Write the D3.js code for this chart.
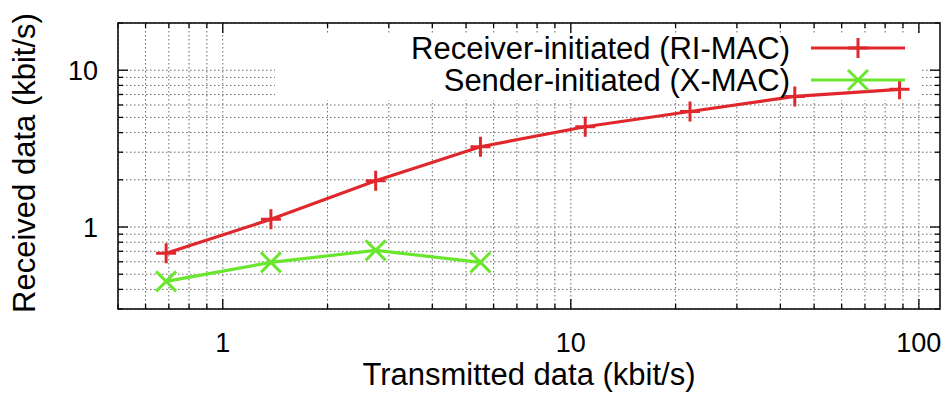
<!DOCTYPE html>
<html>
<head>
<meta charset="utf-8">
<script src="https://cdn.jsdelivr.net/npm/d3@7"></script>
<style>
  body { margin: 0; background: #fff; }
  text { font-family: "Liberation Sans", Arial, Helvetica, sans-serif; fill: #000; }
</style>
</head>
<body>
<div id="chart"></div>
<script>
// data
let transmitted = [0.6875, 1.375, 2.75, 5.5, 11, 22, 44, 88];
let riMac = [0.68, 1.12, 1.97, 3.25, 4.36, 5.45, 6.8, 7.55];
let xMac = [0.45, 0.595, 0.71, 0.595];
let xTickLabels = [1, 10, 100];
let yTickLabels = [1, 10];
let seriesNames = ["Receiver-initiated (RI-MAC)", "Sender-initiated (X-MAC)"];

let width = 943;
let height = 403;

let margin = {
    top: 23,
    right: 3,
    bottom: 94,
    left: 118
};

let svg = d3.select("#chart")
    .append("svg")
    .attr("width", width)
    .attr("height", height)
    .append("g")
    .attr("transform", "translate(" + margin.left + "," + margin.top + ")");

width = width - margin.left - margin.right;
height = height - margin.top - margin.bottom;

let x = d3.scaleLog()
    .domain([0.5, 115])
    .range([0, width]);

let y = d3.scaleLog()
    .domain([0.3, 20])
    .range([height, 0]);

let xGrid = x.ticks();
let yGrid = y.ticks();

// dotted grid
svg.append("g")
    .selectAll("line")
    .data(xGrid)
    .enter()
    .append("line")
    .attr("x1", d => x(d))
    .attr("x2", d => x(d))
    .attr("y1", 0)
    .attr("y2", height)
    .style("stroke", "#666")
    .style("stroke-width", 1)
    .style("stroke-dasharray", "1.5,2.5");

svg.append("g")
    .selectAll("line")
    .data(yGrid)
    .enter()
    .append("line")
    .attr("x1", 0)
    .attr("x2", width)
    .attr("y1", d => y(d))
    .attr("y2", d => y(d))
    .style("stroke", "#666")
    .style("stroke-width", 1)
    .style("stroke-dasharray", "1.5,2.5");

// opaque key area
svg.append("rect")
    .attr("x", 157)
    .attr("y", 10)
    .attr("width", 645)
    .attr("height", 67)
    .style("fill", "#fff");

// tick marks on all four sides
let isMajor = d => Math.abs(Math.log10(d) - Math.round(Math.log10(d))) < 1e-9;

let ticks = svg.append("g").style("stroke", "#000").style("stroke-width", 1.3);
xGrid.forEach(d => {
    let len = isMajor(d) ? 10 : 5;
    ticks.append("line").attr("x1", x(d)).attr("x2", x(d)).attr("y1", height).attr("y2", height - len);
    ticks.append("line").attr("x1", x(d)).attr("x2", x(d)).attr("y1", 0).attr("y2", len);
});
yGrid.forEach(d => {
    let len = isMajor(d) ? 10 : 5;
    ticks.append("line").attr("x1", 0).attr("x2", len).attr("y1", y(d)).attr("y2", y(d));
    ticks.append("line").attr("x1", width).attr("x2", width - len).attr("y1", y(d)).attr("y2", y(d));
});

// frame
svg.append("rect")
    .attr("width", width)
    .attr("height", height)
    .style("fill", "none")
    .style("stroke", "#111")
    .style("stroke-width", 1.6);

// tick labels
svg.append("g")
    .selectAll("text")
    .data(xTickLabels)
    .enter()
    .append("text")
    .attr("x", d => x(d))
    .attr("y", height + 43)
    .attr("text-anchor", "middle")
    .style("font-size", "27px")
    .text(d => d);

svg.append("g")
    .selectAll("text")
    .data(yTickLabels)
    .enter()
    .append("text")
    .attr("x", -20)
    .attr("y", d => y(d) + 10)
    .attr("text-anchor", "end")
    .style("font-size", "27px")
    .text(d => d);

// axis titles
svg.append("text")
    .attr("text-anchor", "middle")
    .attr("x", width / 2)
    .attr("y", height + 76)
    .style("font-size", "31px")
    .text("Transmitted data (kbit/s)");

svg.append("text")
    .attr("text-anchor", "middle")
    .attr("transform", "translate(-83," + (height / 2 - 3) + ") rotate(-90)")
    .style("font-size", "31px")
    .text("Received data (kbit/s)");

// series
let red = "#e0282c";
let green = "#6ae62e";

let line = d3.line()
    .x(d => x(d[0]))
    .y(d => y(d[1]));

let riPts = riMac.map((v, i) => [transmitted[i], v]);
let xPts = xMac.map((v, i) => [transmitted[i], v]);

function plus(g, cx, cy, s, color) {
    g.append("path")
        .attr("d", "M" + (cx - s) + "," + cy + "H" + (cx + s) + "M" + cx + "," + (cy - s) + "V" + (cy + s))
        .style("stroke", color)
        .style("stroke-width", 3)
        .style("fill", "none");
}

function cross(g, cx, cy, s, color) {
    g.append("path")
        .attr("d", "M" + (cx - s) + "," + (cy - s) + "L" + (cx + s) + "," + (cy + s) +
                   "M" + (cx - s) + "," + (cy + s) + "L" + (cx + s) + "," + (cy - s))
        .style("stroke", color)
        .style("stroke-width", 3)
        .style("fill", "none");
}

svg.append("path")
    .datum(xPts)
    .attr("d", line)
    .style("fill", "none")
    .style("stroke", green)
    .style("stroke-width", 3.2);

let xMarks = svg.append("g");
xPts.forEach(d => cross(xMarks, x(d[0]), y(d[1]), 10, green));

svg.append("path")
    .datum(riPts)
    .attr("d", line)
    .style("fill", "none")
    .style("stroke", red)
    .style("stroke-width", 3.2);

let riMarks = svg.append("g");
riPts.forEach(d => plus(riMarks, x(d[0]), y(d[1]), 10, red));

// key
let key = svg.append("g");
let keyColors = [red, green];
seriesNames.forEach((name, i) => {
    let ky = 25 + i * 32;
    key.append("text")
        .attr("x", 672)
        .attr("y", ky + 11)
        .attr("text-anchor", "end")
        .style("font-size", "31px")
        .text(name);
    key.append("line")
        .attr("x1", 693)
        .attr("x2", 787)
        .attr("y1", ky)
        .attr("y2", ky)
        .style("stroke", keyColors[i])
        .style("stroke-width", 3.2);
    if (i === 0) plus(key, 740, ky, 10, red);
    else cross(key, 740, ky, 10, green);
});
</script>
</body>
</html>
